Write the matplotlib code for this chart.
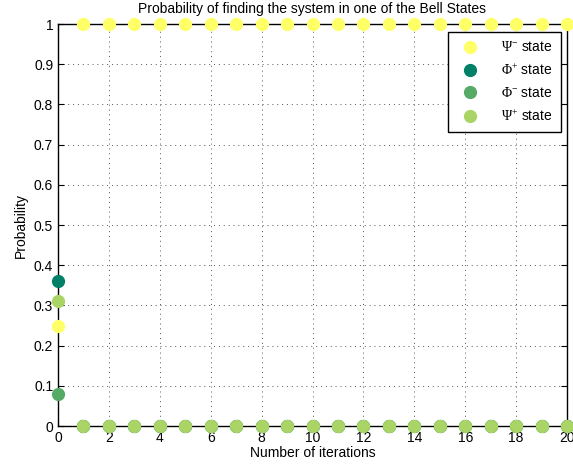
import matplotlib
matplotlib.use("Agg")
import matplotlib.pyplot as plt
import numpy as np

iterations = list(range(0, 21))
psi_minus = [0.25] + [1.0] * 20
phi_plus = [0.36] + [0.0] * 20
phi_minus = [0.08] + [0.0] * 20
psi_plus = [0.31] + [0.0] * 20

labels = [r"$\Psi^{-}$ state", r"$\Phi^{+}$ state", r"$\Phi^{-}$ state", r"$\Psi^{+}$ state"]
colors = ["#FFFF66", "#008066", "#55AA66", "#AAD466"]
series = [psi_minus, phi_plus, phi_minus, psi_plus]

plt.rcParams['font.family'] = ['Liberation Sans', 'DejaVu Sans']
plt.rcParams['mathtext.fontset'] = 'custom'
plt.rcParams['mathtext.rm'] = 'Liberation Serif'
plt.rcParams['mathtext.it'] = 'Liberation Serif'

fig = plt.figure(figsize=(5.73, 4.73), dpi=100)
ax = fig.add_axes([58/573, 47/473, (567-58)/573, (426-24)/473])

for vals, c, lab in zip(series, colors, labels):
    ax.plot(iterations, vals, linestyle='none', marker='o', markersize=8.5,
            markerfacecolor=c, markeredgecolor=c, color=c, label=lab, clip_on=False, zorder=3)

ax.set_xlim(0, 20)
ax.set_ylim(0, 1)
ax.set_xticks(np.arange(0, 21, 2))
ax.set_yticks(np.round(np.arange(0, 1.01, 0.1), 1))
ax.set_yticklabels(["0", "0.1", "0.2", "0.3", "0.4", "0.5", "0.6", "0.7", "0.8", "0.9", "1"])
ax.grid(True, linestyle=(0, (1, 4)), color='#555555', linewidth=0.7)
ax.tick_params(direction='in', labelsize=10, length=4, width=0.8, top=True, right=True)
for s in ax.spines.values():
    s.set_linewidth(1.0)
    s.set_zorder(2)
ax.set_title("Probability of finding the system in one of the Bell States", fontsize=10, pad=8)
ax.set_xlabel("Number of iterations", fontsize=10, labelpad=1)
ax.set_ylabel("Probability", fontsize=10, labelpad=4)

leg = ax.legend(loc='upper right', bbox_to_anchor=(0.988, 0.980), borderaxespad=0,
                fontsize=10, frameon=True,
                fancybox=False, edgecolor='black', framealpha=1, borderpad=0.6,
                handletextpad=1.2, labelspacing=0.6)
leg.get_frame().set_linewidth(1.0)
leg.set_zorder(5)

fig.savefig("out.png", dpi=100)
